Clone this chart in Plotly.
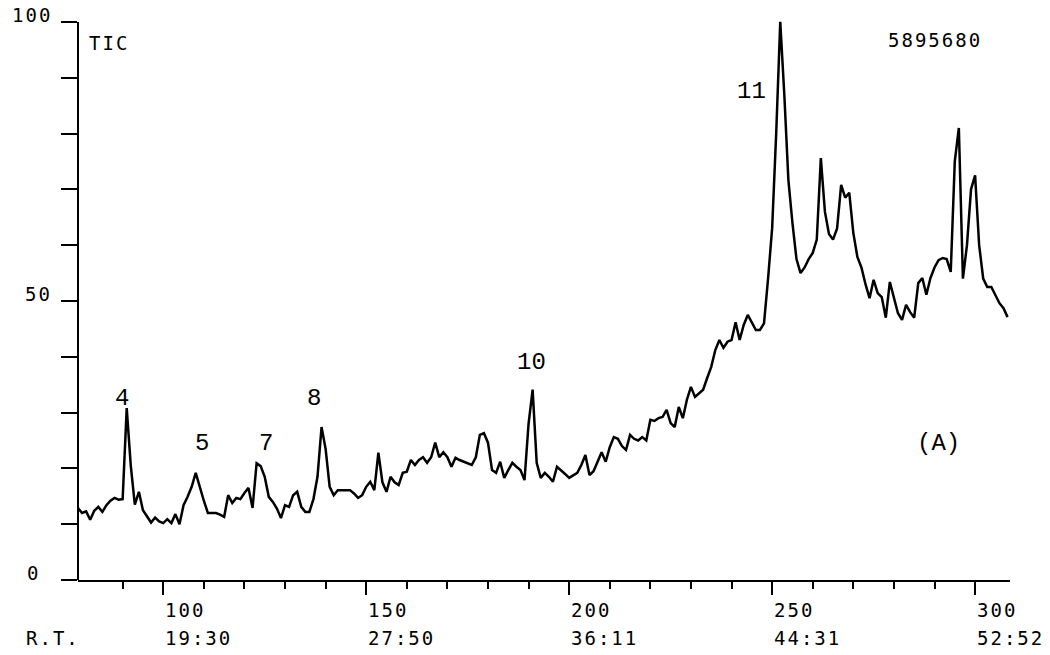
import plotly.graph_objects as go

# Total ion chromatogram, relative intensity (%) per scan number
scan = list(range(79, 309))
tic = [
    12.9, 12.0, 12.3, 10.8, 12.4, 13.1, 12.2, 13.4, 14.2, 14.7,
    14.4, 14.5, 30.8, 20.5, 13.5, 15.8, 12.5, 11.3, 10.3, 11.2,
    10.5, 10.2, 10.9, 10.2, 11.8, 10.0, 13.4, 14.9, 16.7, 19.2,
    16.5, 14.2, 12.0, 12.0, 12.0, 11.7, 11.3, 15.2, 13.8, 14.7,
    14.5, 15.6, 16.5, 12.9, 20.9, 20.4, 18.5, 14.9, 14.0, 12.8,
    11.1, 13.4, 13.1, 15.2, 15.8, 13.1, 12.2, 12.2, 14.5, 18.5,
    27.4, 23.5, 16.7, 15.2, 16.1, 16.1, 16.1, 16.1, 15.5, 14.7,
    15.2, 16.7, 17.6, 16.1, 22.8, 17.5, 15.8, 18.5, 17.5, 17.0,
    19.2, 19.4, 21.5, 20.6, 21.5, 22.0, 21.0, 22.0, 24.6, 22.0,
    22.9, 22.0, 20.3, 21.9, 21.5, 21.2, 21.0, 20.6, 22.0, 26.0,
    26.3, 24.6, 19.7, 19.2, 21.2, 18.3, 19.7, 21.0, 20.3, 19.7,
    17.9, 28.0, 34.1, 21.0, 18.3, 19.2, 18.5, 17.6, 20.3, 19.7,
    19.0, 18.3, 18.8, 19.2, 20.6, 22.4, 18.8, 19.5, 21.2, 22.9,
    21.2, 23.8, 25.6, 25.3, 24.0, 23.3, 26.0, 25.3, 25.0, 25.6,
    25.0, 28.7, 28.5, 29.0, 29.2, 30.5, 28.1, 27.4, 31.0, 29.0,
    32.3, 34.6, 32.8, 33.5, 34.1, 36.2, 38.2, 41.2, 43.0, 41.6,
    42.7, 43.0, 46.2, 43.0, 45.7, 47.5, 46.2, 44.8, 44.8, 46.0,
    54.0, 63.0, 80.0, 100.0, 87.0, 71.7, 64.0, 57.5, 55.0, 56.0,
    57.5, 58.6, 61.0, 75.6, 66.0, 62.0, 61.0, 63.0, 70.8, 68.5,
    69.4, 62.2, 57.9, 56.0, 53.0, 50.5, 53.8, 51.4, 50.7, 47.0,
    53.4, 50.7, 47.8, 46.6, 49.3, 48.0, 47.0, 53.2, 54.1, 51.1,
    54.1, 56.0, 57.3, 57.7, 57.5, 55.2, 75.0, 81.0, 54.0, 60.0,
    70.0, 72.5, 60.0, 54.0, 52.5, 52.5, 51.0, 49.6, 48.7, 47.1,
]

# Scan-number ticks and the matching retention times
scan_ticks = [100, 150, 200, 250, 300]
rt_labels = ["19:30", "27:50", "36:11", "44:31", "52:52"]
minor_ticks = [90, 110, 120, 130, 140, 160, 170, 180, 190, 210, 220, 230,
               240, 260, 270, 280, 290]
y_ticks = list(range(0, 101, 10))
y_labels = {100: "100", 50: "50", 0: "0"}

# Numbered components: (label, scan, intensity of the label position)
peak_names = ["4", "5", "7", "8", "10", "11"]
peak_scans = [89.8, 109.5, 125.3, 137.1, 190.6, 244.8]
peak_label_y = [32.6, 24.4, 24.4, 32.6, 38.9, 87.6]

header_left = "TIC"
header_right = "5895680"
panel_tag = "(A)"
panel_tag_pos = (291.1, 24.5)

MONO = "DejaVu Sans Mono"
TYPE = "Liberation Mono"
MONO_FONT = dict(family=MONO, size=19, color="black")
TYPE_FONT = dict(family=TYPE, size=24, color="black")


def spaced(t, px=2):
    return f'<span style="letter-spacing:{px}px">{t}</span>'


W, H = 1050, 655
ML, MR, MT, MB = 78, 40, 18, 75
PW, PH = W - ML - MR, H - MT - MB


def px_to_paper(px, py):
    return (px - ML) / PW, 1 - (py - MT) / PH


fig = go.Figure()
fig.add_trace(go.Scatter(
    x=scan, y=tic, mode="lines",
    line=dict(color="black", width=2.5),
    hoverinfo="skip", showlegend=False,
))

ann = []
# scan numbers and retention times under the axis
for s, rt in zip(scan_ticks, rt_labels):
    ann.append(dict(x=s, y=0, xref="x", yref="paper", text=spaced(str(s)),
                    xanchor="left", yanchor="middle", xshift=0, yshift=-30,
                    showarrow=False, font=MONO_FONT))
    ann.append(dict(x=s, y=0, xref="x", yref="paper", text=spaced(rt),
                    xanchor="left", yanchor="middle", xshift=0, yshift=-58,
                    showarrow=False, font=MONO_FONT))
ann.append(dict(x=0, y=0, xref="paper", yref="paper", text=spaced("R.T."),
                xanchor="left", yanchor="middle", xshift=-54, yshift=-58,
                showarrow=False, font=MONO_FONT))

# intensity labels sit just above their ticks
y_label_shift = {100: -24, 50: -24, 0: -36}
for v, t in y_labels.items():
    ann.append(dict(x=0, y=v, xref="paper", yref="y", text=spaced(t),
                    xanchor="right", yanchor="middle", xshift=y_label_shift[v],
                    yshift=7, showarrow=False, font=MONO_FONT))

# header texts
hx, hy = px_to_paper(109, 43)
ann.append(dict(x=hx, y=hy, xref="paper", yref="paper", text=spaced(header_left),
                xanchor="center", yanchor="middle", showarrow=False, font=MONO_FONT))
hx, hy = px_to_paper(935, 40)
ann.append(dict(x=hx, y=hy, xref="paper", yref="paper", text=spaced(header_right),
                xanchor="center", yanchor="middle", showarrow=False, font=MONO_FONT))

# peak numbers
for name, s, yv in zip(peak_names, peak_scans, peak_label_y):
    ann.append(dict(x=s, y=yv, xref="x", yref="y", text=name, showarrow=False,
                    xanchor="center", yanchor="middle", font=TYPE_FONT))
ann.append(dict(x=panel_tag_pos[0], y=panel_tag_pos[1], xref="x", yref="y",
                text=panel_tag, showarrow=False, xanchor="center",
                yanchor="middle", font=TYPE_FONT))

fig.update_layout(
    width=W, height=H,
    margin=dict(l=ML, r=MR, t=MT, b=MB),
    paper_bgcolor="white", plot_bgcolor="white",
    annotations=ann,
    xaxis=dict(
        range=[79, 308.6], showgrid=False, zeroline=False,
        showline=True, linecolor="black", linewidth=2,
        ticks="outside", tickvals=scan_ticks, ticklen=13, tickwidth=2,
        tickcolor="black", showticklabels=False,
        minor=dict(tickvals=minor_ticks, ticks="outside", ticklen=7,
                   tickwidth=2, tickcolor="black"),
    ),
    yaxis=dict(
        range=[0, 100.7], showgrid=False, zeroline=False, showline=False,
        ticks="outside", tickvals=y_ticks, ticklen=16, tickwidth=2,
        tickcolor="black", showticklabels=False,
    ),
    shapes=[dict(type="line", xref="paper", yref="y", x0=0, x1=0, y0=0, y1=100,
                 line=dict(color="black", width=2))],
)

fig.write_html("out.html")
